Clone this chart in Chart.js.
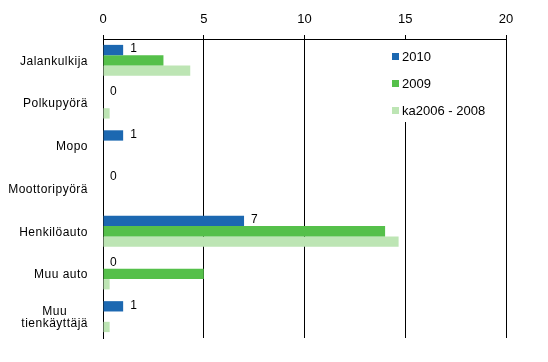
<!DOCTYPE html>
<html>
<head>
<meta charset="utf-8">
<script src="https://cdn.jsdelivr.net/npm/chart.js@4"></script>
<style>
  html, body { margin: 0; padding: 0; background: #fff; }
  #wrap { width: 548px; height: 362px; }
</style>
</head>
<body>
<div id="wrap"><canvas id="chart" width="548" height="362"></canvas></div>
<script>
// data
const categories = ['Jalankulkija', 'Polkupyörä', 'Mopo', 'Moottoripyörä', 'Henkilöauto', 'Muu auto', ['Muu', 'tienkäyttäjä']];
const seriesNames = ['2010', '2009', 'ka2006 - 2008'];
const values2010 = [1, 0, 1, 0, 7, 0, 1];
const values2009 = [3, 0, 0, 0, 14, 5, 0];
const valuesAvg = [4.33, 0.33, 0, 0, 14.67, 0.33, 0.33];
const xTicks = [0, 5, 10, 15, 20];
const colors = ['#1c68b1', '#55c04a', '#bde5b4'];

const FONT = 'Arial, "Liberation Sans", sans-serif';

// category labels: right aligned block, multi-line centred
const categoryLabels = {
  id: 'categoryLabels',
  afterDraw(chart) {
    const { ctx } = chart;
    const y = chart.scales.y;
    const right = 88;
    ctx.save();
    ctx.font = '12px ' + FONT;
    ctx.letterSpacing = '0.5px';
    ctx.fillStyle = '#000';
    ctx.textBaseline = 'middle';
    categories.forEach((lab, i) => {
      const lines = Array.isArray(lab) ? lab : [lab];
      const cy = y.getPixelForValue(i) + 1;
      const w = Math.max(...lines.map(l => ctx.measureText(l).width));
      const cx = right - w / 2;
      const lh = 12.5;
      lines.forEach((l, j) => {
        ctx.textAlign = 'center';
        ctx.fillText(l, cx, cy + (j - (lines.length - 1) / 2) * lh);
      });
    });
    ctx.restore();
  }
};

// value labels on the 2010 bars
const valueLabels = {
  id: 'valueLabels',
  afterDatasetsDraw(chart) {
    const { ctx } = chart;
    const meta = chart.getDatasetMeta(0);
    ctx.save();
    ctx.font = '12px ' + FONT;
    ctx.fillStyle = '#000';
    ctx.textAlign = 'left';
    ctx.textBaseline = 'middle';
    meta.data.forEach((bar, i) => {
      ctx.fillText(String(Math.round(values2010[i])), bar.x + 7, bar.y - 1);
    });
    ctx.restore();
  }
};

// legend sits inside the plot on a white box
const insideLegend = {
  id: 'insideLegend',
  afterDraw(chart) {
    const { ctx } = chart;
    ctx.save();
    ctx.fillStyle = '#fff';
    ctx.fillRect(386, 40, 106, 82);
    ctx.font = '13px ' + FONT;
    ctx.textAlign = 'left';
    ctx.textBaseline = 'middle';
    seriesNames.forEach((name, i) => {
      const cy = 57 + i * 27;
      ctx.fillStyle = colors[i];
      ctx.fillRect(392, cy - 4, 7, 7);
      ctx.fillStyle = '#000';
      ctx.fillText(name, 402, cy);
    });
    ctx.restore();
  }
};

new Chart(document.getElementById('chart'), {
  type: 'bar',
  data: {
    labels: categories,
    datasets: [
      { label: seriesNames[0], data: values2010, backgroundColor: colors[0] },
      { label: seriesNames[1], data: values2009, backgroundColor: colors[1] },
      { label: seriesNames[2], data: valuesAvg, backgroundColor: colors[2] }
    ]
  },
  options: {
    indexAxis: 'y',
    responsive: false,
    animation: false,
    devicePixelRatio: 1,
    categoryPercentage: 0.725,
    barPercentage: 1,
    borderWidth: 0,
    layout: { padding: { top: 0, right: 42, bottom: 24, left: 0 } },
    plugins: {
      legend: { display: false },
      tooltip: { enabled: false }
    },
    scales: {
      x: {
        position: 'top',
        min: 0,
        max: 20,
        afterBuildTicks: (scale) => { scale.ticks = xTicks.map(v => ({ value: v })); },
        afterFit: (scale) => { scale.height = 39; },
        ticks: {
          color: '#000',
          font: { size: 13, family: FONT },
          padding: 8
        },
        grid: { color: '#000', lineWidth: 1, tickLength: 4, drawOnChartArea: true },
        border: { color: '#000', width: 1 }
      },
      y: {
        afterFit: (scale) => { scale.width = 103; },
        ticks: { display: false },
        grid: { display: false },
        border: { color: '#000', width: 1 }
      }
    }
  },
  plugins: [valueLabels, categoryLabels, insideLegend]
});
</script>
</body>
</html>
